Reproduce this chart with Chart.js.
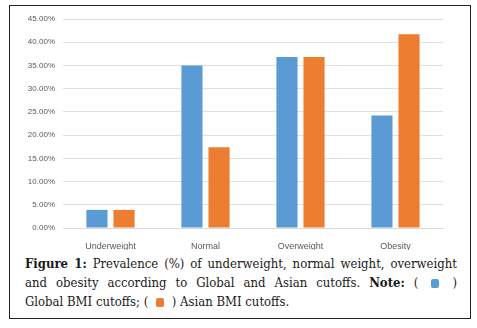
<!DOCTYPE html>
<html>
<head>
<meta charset="utf-8">
<script src="https://cdn.jsdelivr.net/npm/chart.js@4.4.1/dist/chart.umd.min.js"></script>
<style>
  html, body { margin: 0; padding: 0; background: #fff; }
  #wrap { position: relative; width: 477px; height: 328px; }
  #frame { position: absolute; left: 9px; top: 5px; width: 460px; height: 312px; border: 1.5px solid #222; }
  #chartBox { position: absolute; left: 0; top: 0; width: 477px; height: 250px; }
  #caption { position: absolute; left: 25px; top: 254px; width: 432px;
    font-family: "DejaVu Serif", serif; font-stretch: condensed; font-size: 13px; line-height: 19px; color: #1a1a1a; }
  #caption div { text-align: justify; text-align-last: justify; white-space: nowrap; }
  #caption div.last { text-align-last: left; }
  .sq { display: inline-block; width: 8px; height: 9px; border-radius: 2px; vertical-align: -1px; margin: 0 4px; }
</style>
</head>
<body>
<div id="wrap">
  <div id="frame"></div>
  <div id="chartBox"><canvas id="chart"></canvas></div>
  <div id="caption">
    <div><b>Figure 1:</b> Prevalence (%) of underweight, normal weight, overweight</div>
    <div>and obesity according to Global and Asian cutoffs. <b>Note:</b> ( <span class="sq" style="background:#5B9BD5"></span> )</div>
    <div class="last">Global BMI cutoffs; ( <span class="sq" style="background:#ED7D31"></span> ) Asian BMI cutoffs.</div>
  </div>
</div>
<script>
const categories = ["Underweight", "Normal", "Overweight", "Obesity"];
const globalValues = [3.9, 35.0, 36.8, 24.2];
const asianValues = [3.9, 17.4, 36.8, 41.7];
const yTicks = [0, 5, 10, 15, 20, 25, 30, 35, 40, 45];

new Chart(document.getElementById("chart"), {
  type: "bar",
  data: {
    labels: categories,
    datasets: [
      { label: "Global BMI cutoffs", data: globalValues, backgroundColor: "#5B9BD5" },
      { label: "Asian BMI cutoffs", data: asianValues, backgroundColor: "#ED7D31" }
    ]
  },
  options: {
    responsive: true,
    maintainAspectRatio: false,
    animation: false,
    categoryPercentage: 0.57,
    barPercentage: 0.78,
    layout: { padding: { left: 0, right: 34, top: 19, bottom: 0 } },
    plugins: { legend: { display: false }, tooltip: { enabled: false } },
    scales: {
      x: {
        grid: { display: false },
        border: { color: "#d9d9d9" },
        ticks: { color: "#595959", font: { family: "Liberation Sans", size: 9 }, padding: 5 },
        afterFit: s => { s.height = 22; }
      },
      y: {
        min: 0,
        max: 45,
        afterBuildTicks: s => { s.ticks = yTicks.map(v => ({ value: v })); },
        grid: { color: "#e0e0e0", drawTicks: false },
        border: { display: false },
        ticks: {
          color: "#595959",
          font: { family: "Liberation Sans", size: 8 },
          padding: 8,
          callback: v => v.toFixed(2) + "%"
        },
        afterFit: s => { s.width = 63; }
      }
    }
  }
});
</script>
</body>
</html>
